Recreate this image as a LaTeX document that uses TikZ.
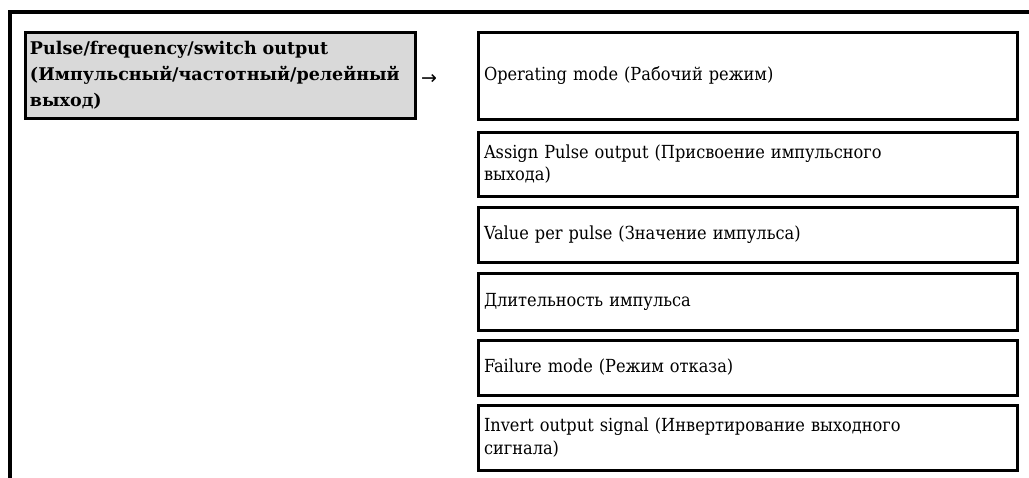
\documentclass[tikz,border=0pt]{standalone}
\usepackage{fontspec}
\setmainfont{DejaVu Serif Condensed}
\newfontfamily\headfont{DejaVu Serif}
\newfontfamily\arrowfont{DejaVu Sans}
\definecolor{boxgray}{RGB}{217,217,217}
\begin{document}
\begin{tikzpicture}[x=1pt,y=-1pt,
  frame/.style={line width=3.5pt},
  graybox/.style={draw, line width=3pt, fill=boxgray, outer sep=0pt,
    anchor=north west, minimum width=390pt, minimum height=86pt,
    inner xsep=5pt, inner ysep=0pt, text width=380pt, align=left,
    font=\headfont\fontsize{17.5}{26}\selectfont\bfseries},
  rbox/.style={draw, line width=3pt, outer sep=0pt, anchor=north west,
    minimum width=539pt, inner xsep=6pt, inner ysep=0pt, text width=527pt,
    align=left, font=\fontsize{18}{22.5}\selectfont},
  arrowtxt/.style={inner sep=0pt, font=\arrowfont\fontsize{19}{19}\selectfont}]
\useasboundingbox (0,0) rectangle (1029,477);
\clip (0,0) rectangle (1029,477);
\draw[frame] (10,490) -- (10,12) -- (1040,12);
\node[graybox] (main) at (25,32) {Pulse/frequency/switch output\\(Импульсный/частотный/релейный\\выход)};
\node[arrowtxt] (arr) at (429,79) {→};
\node[rbox, minimum height=87pt] (b1) at (478,32) {Operating mode (Рабочий режим)};
\node[rbox, minimum height=64pt] (b2) at (478,132) {Assign Pulse output (Присвоение импульсного\\выхода)};
\node[rbox, minimum height=55pt] (b3) at (478,207) {Value per pulse (Значение импульса)};
\node[rbox, minimum height=57pt] (b4) at (478,273) {Длительность импульса};
\node[rbox, minimum height=55pt] (b5) at (478,340) {Failure mode (Режим отказа)};
\node[rbox, minimum height=65pt] (b6) at (478,405) {Invert output signal (Инвертирование выходного\\сигнала)};
\end{tikzpicture}
\end{document}
